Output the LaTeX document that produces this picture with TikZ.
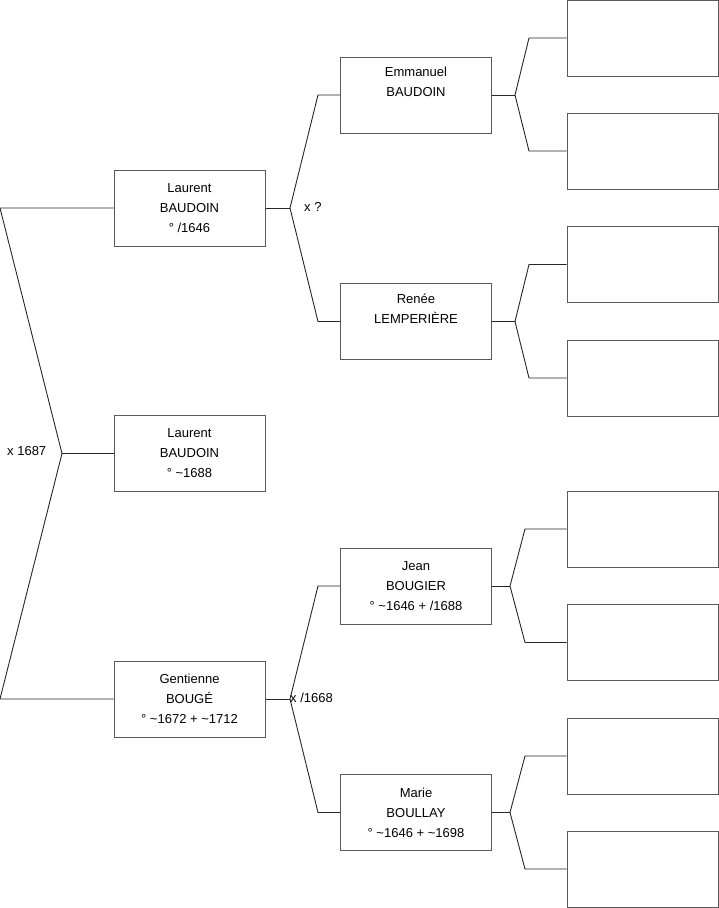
\documentclass[tikz,border=0pt]{standalone}
\usepackage{fontspec}
\setmainfont{Liberation Sans}
\begin{document}
\begin{tikzpicture}[x=1pt,y=-1pt,
  pbox/.style={draw=black!65,line width=1pt,minimum width=151pt,minimum height=76pt,inner sep=0pt,align=center,font=\fontsize{13}{20}\selectfont},
  lnk/.style={draw=black!85,line width=0.9pt},
  lbl/.style={font=\fontsize{13}{14}\selectfont,inner sep=0pt}]
\useasboundingbox (0,0) rectangle (719,908);
% generation 1
\node[pbox] (l1) at (189.5,208) {Laurent\\BAUDOIN\\° /1646};
\node[pbox] (l0) at (189.5,453.5) {Laurent\\BAUDOIN\\° \textasciitilde1688};
\node[pbox] (g1) at (189.5,699) {Gentienne\\BOUGÉ\\° \textasciitilde1672 + \textasciitilde1712};
% generation 2
\node[pbox] (em) at (416,95) {Emmanuel\\BAUDOIN\\\strut};
\node[pbox] (re) at (416,321.5) {Renée\\LEMPERIÈRE\\\strut};
\node[pbox] (je) at (416,586) {Jean\\BOUGIER\\° \textasciitilde1646 + /1688};
\node[pbox] (ma) at (416,812.5) {Marie\\BOULLAY\\° \textasciitilde1646 + \textasciitilde1698};
% generation 3
\node[pbox] (r1) at (642.5,38) {};
\node[pbox] (r2) at (642.5,151) {};
\node[pbox] (r3) at (642.5,264.5) {};
\node[pbox] (r4) at (642.5,378) {};
\node[pbox] (r5) at (642.5,529) {};
\node[pbox] (r6) at (642.5,642.5) {};
\node[pbox] (r7) at (642.5,756) {};
\node[pbox] (r8) at (642.5,869) {};
% junctions
\coordinate (j0) at (62,453.5);
\coordinate (j0a) at (0,208);
\coordinate (j0b) at (0,699);
\coordinate (j1) at (290,208);
\coordinate (j1a) at (318,95);
\coordinate (j1b) at (318,321.5);
\coordinate (j2) at (290,699);
\coordinate (j2a) at (318,586);
\coordinate (j2b) at (318,812.5);
\coordinate (je1) at (515,95);
\coordinate (je1a) at (529,38);
\coordinate (je1b) at (529,151);
\coordinate (je2) at (515,321.5);
\coordinate (je2a) at (529,264.5);
\coordinate (je2b) at (529,378);
\coordinate (je3) at (510,586);
\coordinate (je3a) at (525,529);
\coordinate (je3b) at (525,642.5);
\coordinate (je4) at (510,812.5);
\coordinate (je4a) at (525,756);
\coordinate (je4b) at (525,869);
% connectors
\draw[lnk] (l1.west) -- (j0a) -- (j0) -- (j0b) -- (g1.west);
\draw[lnk] (j0) -- (l0.west);
\draw[lnk] (l1.east) -- (j1);
\draw[lnk] (em.west) -- (j1a) -- (j1) -- (j1b) -- (re.west);
\draw[lnk] (g1.east) -- (j2);
\draw[lnk] (je.west) -- (j2a) -- (j2) -- (j2b) -- (ma.west);
\draw[lnk] (em.east) -- (je1);
\draw[lnk] (r1.west) -- (je1a) -- (je1) -- (je1b) -- (r2.west);
\draw[lnk] (re.east) -- (je2);
\draw[lnk] (r3.west) -- (je2a) -- (je2) -- (je2b) -- (r4.west);
\draw[lnk] (je.east) -- (je3);
\draw[lnk] (r5.west) -- (je3a) -- (je3) -- (je3b) -- (r6.west);
\draw[lnk] (ma.east) -- (je4);
\draw[lnk] (r7.west) -- (je4a) -- (je4) -- (je4b) -- (r8.west);
% labels
\node[lbl,anchor=west] (m0) at (7,451) {x 1687};
\node[lbl,anchor=west] (m1) at (304,207) {x ?};
\node[lbl,anchor=west] (m2) at (290,698) {x /1668};
\end{tikzpicture}
\end{document}
